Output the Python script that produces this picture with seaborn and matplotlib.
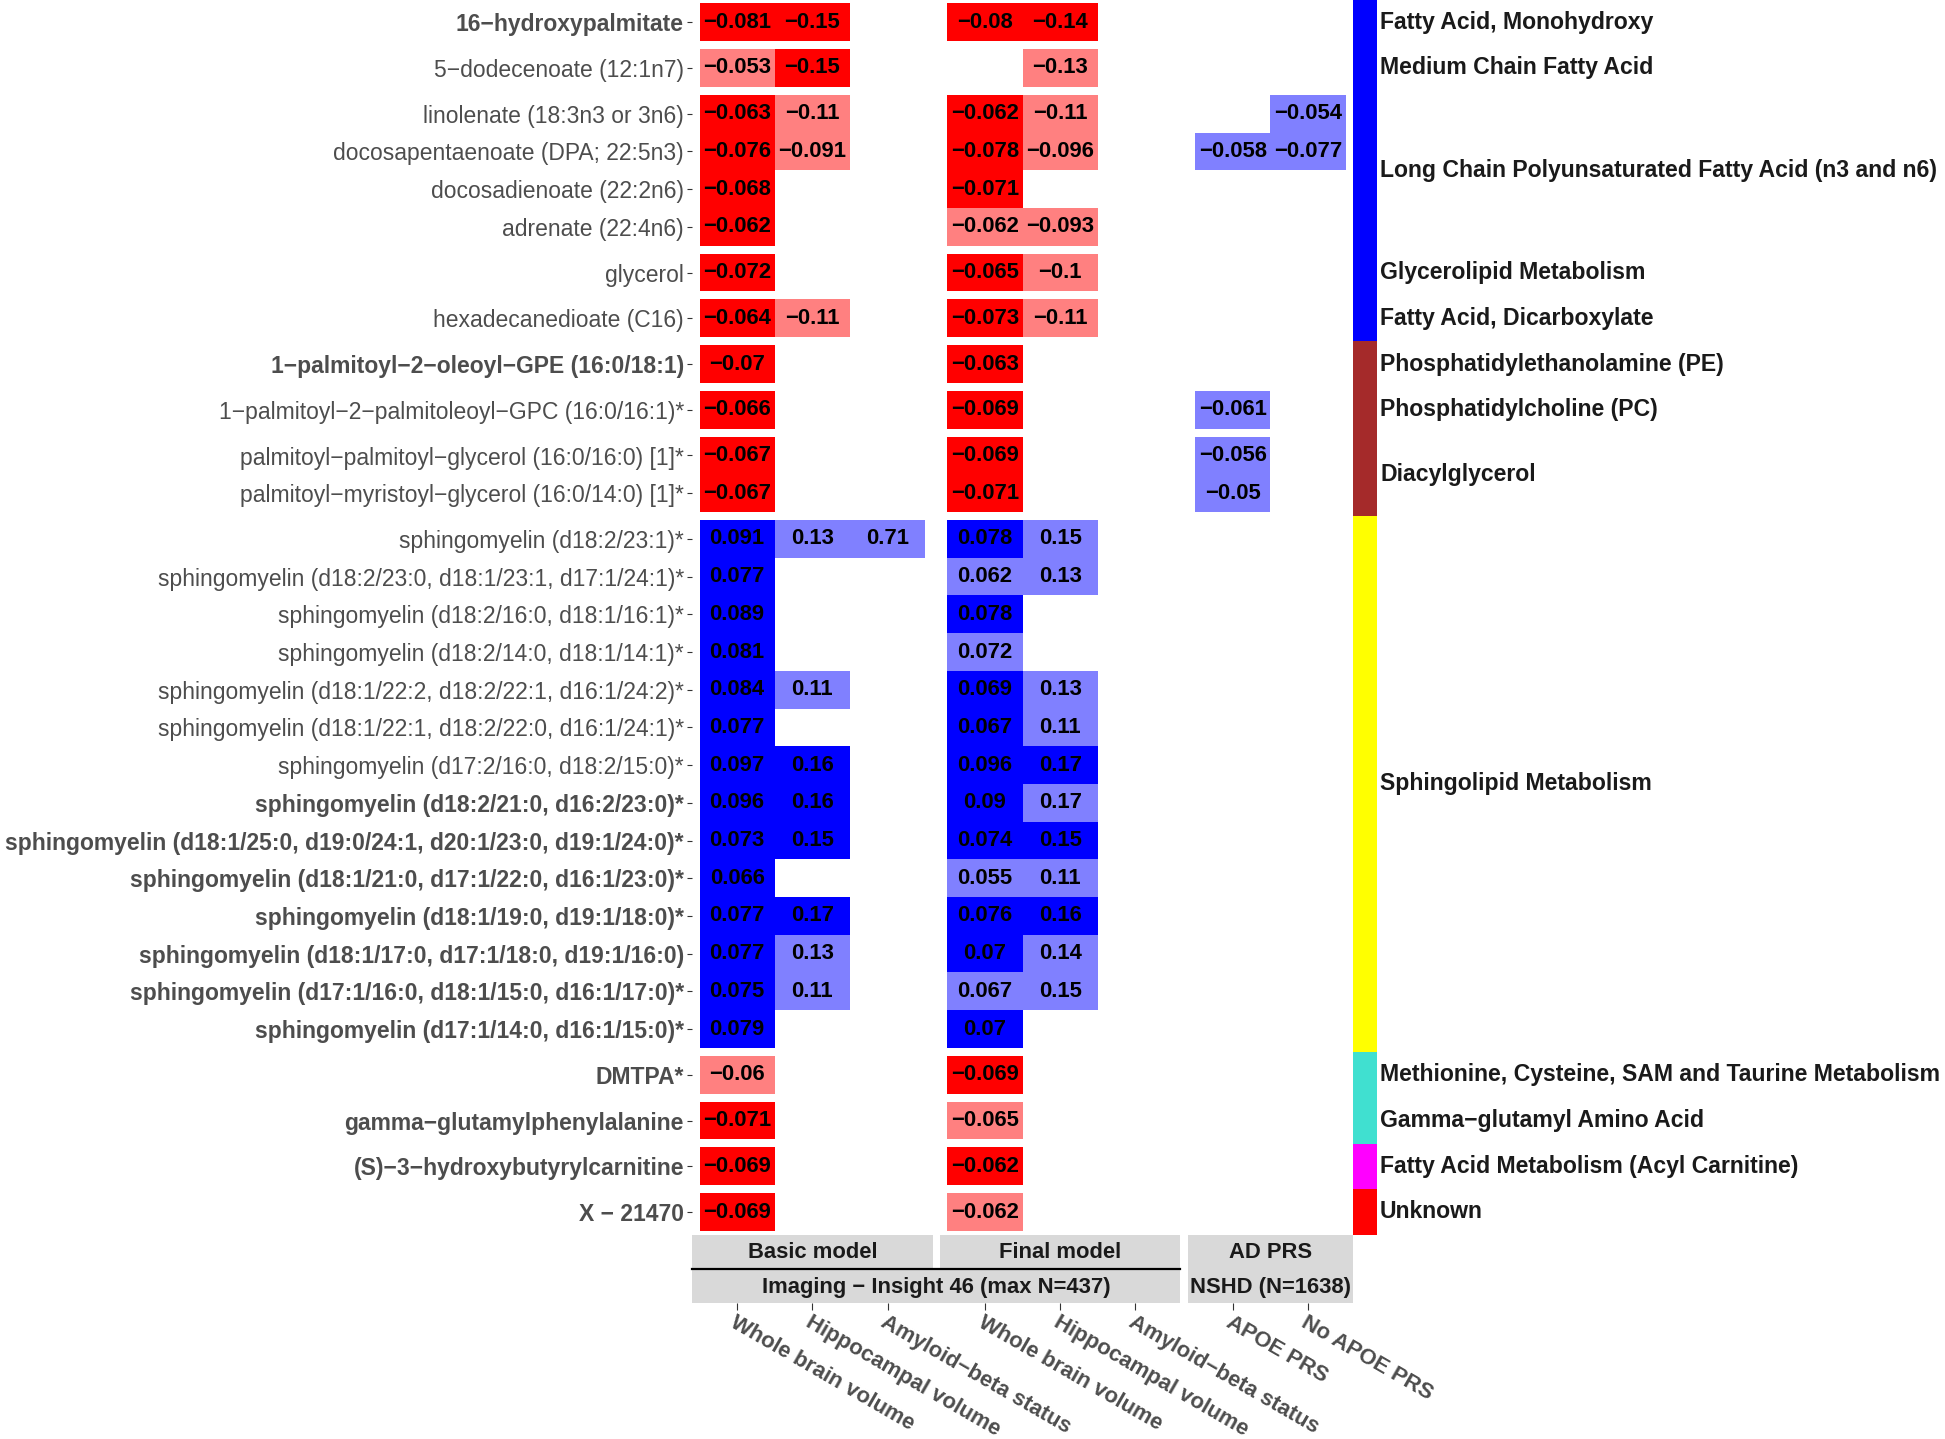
import numpy as np
import pandas as pd
import matplotlib
matplotlib.use("Agg")
import matplotlib.pyplot as plt
from matplotlib.colors import ListedColormap
from matplotlib.patches import Rectangle
from matplotlib.lines import Line2D
import seaborn as sns

MINUS = "\u2212"

# ---- data -------------------------------------------------------------
metabolites = [
    "16-hydroxypalmitate",
    "5-dodecenoate (12:1n7)",
    "linolenate (18:3n3 or 3n6)",
    "docosapentaenoate (DPA; 22:5n3)",
    "docosadienoate (22:2n6)",
    "adrenate (22:4n6)",
    "glycerol",
    "hexadecanedioate (C16)",
    "1-palmitoyl-2-oleoyl-GPE (16:0/18:1)",
    "1-palmitoyl-2-palmitoleoyl-GPC (16:0/16:1)*",
    "palmitoyl-palmitoyl-glycerol (16:0/16:0) [1]*",
    "palmitoyl-myristoyl-glycerol (16:0/14:0) [1]*",
    "sphingomyelin (d18:2/23:1)*",
    "sphingomyelin (d18:2/23:0, d18:1/23:1, d17:1/24:1)*",
    "sphingomyelin (d18:2/16:0, d18:1/16:1)*",
    "sphingomyelin (d18:2/14:0, d18:1/14:1)*",
    "sphingomyelin (d18:1/22:2, d18:2/22:1, d16:1/24:2)*",
    "sphingomyelin (d18:1/22:1, d18:2/22:0, d16:1/24:1)*",
    "sphingomyelin (d17:2/16:0, d18:2/15:0)*",
    "sphingomyelin (d18:2/21:0, d16:2/23:0)*",
    "sphingomyelin (d18:1/25:0, d19:0/24:1, d20:1/23:0, d19:1/24:0)*",
    "sphingomyelin (d18:1/21:0, d17:1/22:0, d16:1/23:0)*",
    "sphingomyelin (d18:1/19:0, d19:1/18:0)*",
    "sphingomyelin (d18:1/17:0, d17:1/18:0, d19:1/16:0)",
    "sphingomyelin (d17:1/16:0, d18:1/15:0, d16:1/17:0)*",
    "sphingomyelin (d17:1/14:0, d16:1/15:0)*",
    "DMTPA*",
    "gamma-glutamylphenylalanine",
    "(S)-3-hydroxybutyrylcarnitine",
    "X - 21470",
]
# metabolites printed in bold
highlighted = [1, 0, 0, 0, 0, 0, 0, 0, 1, 0, 0, 0,
               0, 0, 0, 0, 0, 0, 0, 1, 1, 1, 1, 1, 1, 1,
               1, 1, 1, 1]

pathways = ["Fatty Acid, Monohydroxy", "Medium Chain Fatty Acid",
            "Long Chain Polyunsaturated Fatty Acid (n3 and n6)",
            "Glycerolipid Metabolism", "Fatty Acid, Dicarboxylate",
            "Phosphatidylethanolamine (PE)", "Phosphatidylcholine (PC)",
            "Diacylglycerol", "Sphingolipid Metabolism",
            "Methionine, Cysteine, SAM and Taurine Metabolism",
            "Gamma-glutamyl Amino Acid",
            "Fatty Acid Metabolism (Acyl Carnitine)", "Unknown"]
pathway_sizes = [1, 1, 4, 1, 1, 1, 1, 2, 14, 1, 1, 1, 1]
pathway_colours = ["#0000FF"] * 5 + ["#A52A2A"] * 3 + ["#FFFF00"] + \
                  ["#40E0D0"] * 2 + ["#FF00FF", "#FF0000"]

outcomes = ["Whole brain volume", "Hippocampal volume", "Amyloid-beta status",
            "Whole brain volume", "Hippocampal volume", "Amyloid-beta status",
            "APOE PRS", "No APOE PRS"]
models = ["Basic model", "Final model", "AD PRS"]
model_columns = [[0, 1, 2], [3, 4, 5], [6, 7]]
studies = ["Imaging - Insight 46 (max N=437)", "NSHD (N=1638)"]
study_models = [[0, 1], [2]]

# effect estimates per outcome column (None = not significant)
basic_wbv = [-0.081, -0.053, -0.063, -0.076, -0.068, -0.062, -0.072, -0.064,
             -0.07, -0.066, -0.067, -0.067,
             0.091, 0.077, 0.089, 0.081, 0.084, 0.077, 0.097, 0.096, 0.073,
             0.066, 0.077, 0.077, 0.075, 0.079,
             -0.06, -0.071, -0.069, -0.069]
basic_hv = [-0.15, -0.15, -0.11, -0.091, None, None, None, -0.11,
            None, None, None, None,
            0.13, None, None, None, 0.11, None, 0.16, 0.16, 0.15,
            None, 0.17, 0.13, 0.11, None,
            None, None, None, None]
basic_ab = [None] * 12 + [0.71] + [None] * 17
final_wbv = [-0.08, None, -0.062, -0.078, -0.071, -0.062, -0.065, -0.073,
             -0.063, -0.069, -0.069, -0.071,
             0.078, 0.062, 0.078, 0.072, 0.069, 0.067, 0.096, 0.09, 0.074,
             0.055, 0.076, 0.07, 0.067, 0.07,
             -0.069, -0.065, -0.062, -0.062]
final_hv = [-0.14, -0.13, -0.11, -0.096, None, -0.093, -0.1, -0.11,
            None, None, None, None,
            0.15, 0.13, None, None, 0.13, 0.11, 0.17, 0.17, 0.15,
            0.11, 0.16, 0.14, 0.15, None,
            None, None, None, None]
final_ab = [None] * 30
prs_apoe = [None, None, None, -0.058, None, None, None, None,
            None, -0.061, -0.056, -0.05] + [None] * 18
prs_no_apoe = [None, None, -0.054, -0.077] + [None] * 26

# colour class per cell: R strong harmful, r weak harmful, B strong protective, b weak protective
basic_wbv_sig = "RrRRRRRRRRRR" + "BBBBBBBBBBBBBB" + "rRRR"
basic_hv_sig = "RRrr...r...." + "b...b.BBB.Bbb." + "...."
basic_ab_sig = "............" + "b............." + "...."
final_wbv_sig = "R.RRRrRRRRRR" + "BbBbBBBBBbBBbB" + "RrRr"
final_hv_sig = "Rrrr.rrr...." + "bb..bbBbBbBbb." + "...."
final_ab_sig = "." * 30
prs_apoe_sig = "...b.....bbb" + "." * 18
prs_no_apoe_sig = "..bb" + "." * 26

value_cols = [basic_wbv, basic_hv, basic_ab, final_wbv, final_hv, final_ab,
              prs_apoe, prs_no_apoe]
sig_cols = [basic_wbv_sig, basic_hv_sig, basic_ab_sig, final_wbv_sig,
            final_hv_sig, final_ab_sig, prs_apoe_sig, prs_no_apoe_sig]

# ---- tables -------------------------------------------------------------
level_of = {"R": 0, "r": 1, "B": 2, "b": 3, ".": np.nan}
level = pd.DataFrame({j: [level_of[c] for c in s] for j, s in enumerate(sig_cols)},
                     index=metabolites, dtype=float)
text = pd.DataFrame({j: ["" if v is None else "{:g}".format(v).replace("-", MINUS)
                         for v in vals] for j, vals in enumerate(value_cols)},
                    index=metabolites)
cmap = ListedColormap(["#FF0000", "#FF8080", "#0000FF", "#8080FF"])

# ---- layout (pixels) ------------------------------------------------------
W, H = 1945, 1439
fig = plt.figure(figsize=(W / 100, H / 100), dpi=100)
plt.rcParams["font.family"] = ["Liberation Sans", "DejaVu Sans"]


def box(x, y, w, h):
    return [x / W, 1 - (y + h) / H, w / W, h / H]


row_h, col_w, pad = 37.7, 75.2, 0.1
tops, heights = [], []
y = -0.4
for n in pathway_sizes:
    tops.append(y)
    heights.append((n + 2 * pad) * row_h)
    y += heights[-1] + 0.5
lefts, widths = [], []
x = 692
for cols in model_columns:
    lefts.append(x)
    widths.append((len(cols) + 2 * pad) * col_w)
    x += widths[-1] + 7.2

# ---- heatmap panels ---------------------------------------------------------
start = 0
for k, n in enumerate(pathway_sizes):
    for g, cols in enumerate(model_columns):
        ax = fig.add_axes(box(lefts[g], tops[k], widths[g], heights[k]))
        sns.heatmap(level.iloc[start:start + n, cols],
                    annot=text.iloc[start:start + n, cols].values, fmt="",
                    cmap=cmap, vmin=-0.5, vmax=3.5, cbar=False,
                    xticklabels=False, yticklabels=False,
                    annot_kws=dict(color="black", fontsize=15.8, fontweight="bold"),
                    ax=ax)
        ax.set_xlim(-pad, len(cols) + pad)
        ax.set_ylim(n + pad, -pad)
        ax.set_xlabel("")
        ax.set_ylabel("")
        ax.set_xticks([])
        if g == 0:
            ax.set_yticks(np.arange(n) + 0.5)
            ax.set_yticklabels([m.replace("-", MINUS) for m in metabolites[start:start + n]],
                               rotation=0)
            for lab, b in zip(ax.get_yticklabels(), highlighted[start:start + n]):
                lab.set_fontweight("bold" if b else "normal")
            ax.tick_params(axis="y", left=True, length=3.6, width=0.8, color="#333333",
                           pad=2.2, labelsize=16.5, labelcolor="#4D4D4D")
        else:
            ax.set_yticks([])
    start += n

# ---- bottom strips (nested) ----------------------------------------------
grey = "#D9D9D9"
for g, name in enumerate(models):
    fig.add_artist(Rectangle((lefts[g] / W, 1 - 1268 / H), widths[g] / W, 33 / H,
                             transform=fig.transFigure, facecolor=grey, edgecolor="none"))
    fig.text((lefts[g] + widths[g] / 2) / W, 1 - 1252 / H, name, ha="center", va="center",
             fontsize=15.8, fontweight="bold", color="#1A1A1A")
for s, name in enumerate(studies):
    gs = study_models[s]
    x0 = lefts[gs[0]]
    x1 = lefts[gs[-1]] + widths[gs[-1]]
    fig.add_artist(Rectangle((x0 / W, 1 - 1303 / H), (x1 - x0) / W, 35 / H,
                             transform=fig.transFigure, facecolor=grey, edgecolor="none"))
    fig.text((x0 + x1) / 2 / W, 1 - 1287 / H, name.replace("-", MINUS), ha="center",
             va="center", fontsize=15.8, fontweight="bold", color="#1A1A1A")
    if len(gs) > 1:
        fig.add_artist(Line2D([x0 / W, x1 / W], [1 - 1269 / H, 1 - 1269 / H],
                              transform=fig.transFigure, color="black", linewidth=1.6))

# ---- x tick labels below the strips ------------------------------------------
for g, cols in enumerate(model_columns):
    tax = fig.add_axes(box(lefts[g], 1303, widths[g], 0.01))
    tax.set_xlim(-pad, len(cols) + pad)
    tax.set_xticks(np.arange(len(cols)) + 0.5)
    tax.set_xticklabels([outcomes[c].replace("-", MINUS) for c in cols])
    tax.set_yticks([])
    for sp in tax.spines.values():
        sp.set_visible(False)
    tax.patch.set_visible(False)
    tax.tick_params(axis="x", length=5, width=0.8, color="#333333", pad=1.5,
                    labelsize=15.8, labelcolor="#4D4D4D")
    for lab in tax.get_xticklabels():
        lab.set_rotation(-30)
        lab.set_ha("left")
        lab.set_va("top")
        lab.set_rotation_mode("anchor")
        lab.set_fontweight("bold")

# ---- pathway colour bar and labels ---------------------------------------
bar_x = lefts[-1] + widths[-1]
for k, name in enumerate(pathways):
    top = 0 if k == 0 else tops[k]
    bottom = tops[k + 1] if k + 1 < len(pathways) else tops[k] + heights[k]
    fig.add_artist(Rectangle((bar_x / W, 1 - bottom / H), 24 / W, (bottom - top) / H,
                             transform=fig.transFigure, facecolor=pathway_colours[k],
                             edgecolor="none"))
    fig.text((bar_x + 27) / W, 1 - (tops[k] + heights[k] / 2) / H, name.replace("-", MINUS),
             ha="left", va="center", fontsize=16.6, fontweight="bold", color="#1A1A1A")

fig.savefig("out.png", dpi=100, facecolor="white")
